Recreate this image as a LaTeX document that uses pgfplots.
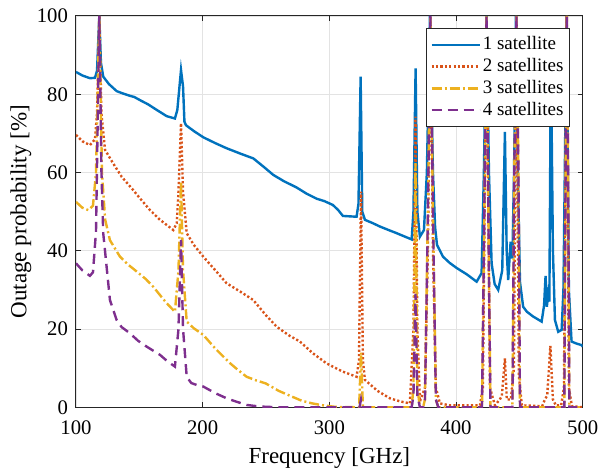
\documentclass[border=0pt]{standalone}
\usepackage{pgfplots}
\pgfplotsset{compat=1.18}
\usepackage{fontspec}
\setmainfont{Liberation Serif}
\definecolor{mblue}{RGB}{0,114,189}
\definecolor{mred}{RGB}{217,83,25}
\definecolor{myellow}{RGB}{237,177,32}
\definecolor{mpurple}{RGB}{126,47,142}
\definecolor{axgray}{RGB}{38,38,38}
\begin{document}
\begin{tikzpicture}
\useasboundingbox (-38pt,-31.35pt) rectangle (262.5pt,203.65pt);
\begin{axis}[
  at={(0,0)}, anchor=south west,
  scale only axis, width=253.35pt, height=195.65pt,
  xmin=100, xmax=500, ymin=0, ymax=100,
  xtick={100,200,300,400,500}, ytick={0,20,40,60,80,100},
  /pgf/number format/assume math mode=true,
  xticklabel={\pgfmathprintnumber{\tick}},
  yticklabel={\pgfmathprintnumber{\tick}},
  tick label style={font=\fontsize{10.35}{12}\selectfont, text=black},
  xticklabel style={anchor=base, yshift=-13.85pt, inner sep=0pt},
  yticklabel style={anchor=east, inner sep=0pt, xshift=-3.85pt},
  label style={font=\fontsize{11.5}{13}\selectfont},
  xlabel={Frequency [GHz]},
  ylabel={Outage probability [\%]},
  xlabel style={at={(axis description cs:0.5,0)}, anchor=base, yshift=-28pt, inner sep=0pt},
  ylabel style={at={([xshift=-27.5pt]axis description cs:0,0.5)}, anchor=center, inner sep=0pt},
  grid=major, major grid style={gray!22, line width=0.4pt},
  tick align=inside, major tick length=2.5pt,
  axis line style={axgray, line width=0.5pt},
  every tick/.style={axgray, line width=0.5pt},
  legend cell align=left,
  legend image code/.code={\draw[#1] (0pt,0pt) -- (24pt,0pt);},
  legend style={at={(rel axis cs:0.975,0.9686)}, anchor=north east,
    font=\fontsize{9.5}{11}\selectfont, draw=axgray, line width=0.5pt, fill=white,
    inner xsep=2pt, inner ysep=2pt, row sep=-1.2pt,
    /tikz/every even column/.append style={column sep=0pt},
    nodes={inner xsep=1pt}},
]
\addplot[mblue, line width=1.2pt] coordinates {
(100,85.7)(105,84.8)(111,84.1)(115,84.2)(116.6,86)(118.4,100)(119.7,88)(121.5,84.5)(126,82.6)(132.1,80.8)(137,80.2)(142.6,79.6)(146,79.3)(150.5,78.5)(157,77.4)(163.7,76)(171.6,74.4)(178.1,73.8)(180,76)(182.9,86.2)(184.5,82)(185.6,73)(186.8,72.1)(193,70.6)(200.5,69.0)(210,67.5)(218.9,66.2)(230,64.8)(240,63.6)(248,61.5)(255.7,59.4)(264,57.8)(274,56.2)(282,54.6)(290,53.3)(296,52.7)(302.8,51.7)(307,50.4)(310.7,48.9)(316,48.8)(321.5,48.7)(323,52)(324.7,84.5)(326,50)(328.1,47.9)(334,47.1)(339.9,46.2)(346,45.4)(353.1,44.5)(359,43.7)(365,42.9)(366.4,50)(368.1,86.6)(369.5,50)(371.5,43.6)(374.7,45.3)(377,60)(379.4,100)(381.8,60)(383.5,46)(385,41.5)(389.7,38.5)(395,36.9)(400.5,35.6)(408.4,34)(416.3,32.1)(420.2,34.3)(422,60)(424.1,100)(426,60)(428.1,36.8)(430.5,31.5)(433.3,30)(436.5,35)(438.6,70.4)(440,40)(441.2,32.5)(443.1,42.3)(444.5,38)(445.8,60)(447.3,100)(448.8,60)(450.5,32)(453,25.7)(456,24.4)(460.9,23.2)(467.6,21.9)(469.5,26)(470.7,33.6)(471.7,25.7)(472.8,29)(473.7,27)(474.9,90)(476.5,40)(478.1,22.3)(480.7,19.3)(483.4,19.8)(484.8,30)(487.3,100)(489.1,30)(491.2,16.8)(495,16.3)(499.1,15.9)(500,15.5)
};
\addlegendentry{1 satellite}
\addplot[mred, line width=1.2pt, dash pattern=on 1.1pt off 1.1pt] coordinates {
(100,69.6)(105,68)(111,67)(115,68.5)(116.6,75)(118.4,100)(120.1,75)(122.9,65.8)(129.4,62.3)(136.1,58.9)(145.2,55.5)(150,53.6)(158.4,50.4)(166,48)(176.8,45.3)(179.5,47)(180.9,55)(182.9,72.6)(184.5,55)(187.4,44.5)(193,41.5)(200.5,38.5)(210,35)(218.9,31.7)(230,29.5)(240,27.4)(250,23.5)(258.4,20.6)(268,18.4)(276.8,16.8)(287,13.8)(297.9,11.2)(310,9.2)(321.5,7.8)(323.4,12)(325,55.1)(326.5,12)(328.1,7)(338,4.2)(347.8,2.3)(356,1.5)(363.6,1)(366.4,20)(368,74.3)(369.5,20)(371.5,1.5)(375.5,5)(377.8,40)(379.8,100)(381.8,40)(384.1,5)(387.3,1)(395,0.5)(418.9,0.5)(421.2,5)(424.1,100)(426.8,5)(430.7,0.5)(434.6,2)(436.2,3)(438.6,12.5)(440.1,2)(443.3,2)(445.7,10)(447.7,100)(449.6,8)(452,0.5)(468,0.3)(470.2,2)(472,3)(474.5,15.7)(476.5,2)(478.8,0.5)(483,0.5)(485.2,5)(487.3,100)(489.1,5)(491.5,0.3)(500,0)
};
\addlegendentry{2 satellites}
\addplot[myellow, line width=1.2pt, dash pattern=on 5pt off 1.5pt on 1pt off 1.5pt] coordinates {
(100,52.5)(105,51)(109.7,50.4)(113.4,51.5)(115.8,60)(118.4,100)(120.5,60)(123,48)(126.8,42.7)(134.7,38.5)(141,36.5)(147.9,34.7)(155,32.8)(161,30.8)(166,28.8)(171.6,26.6)(178.1,24.4)(180.9,35)(182.9,57.7)(184.5,35)(187.4,21.9)(193,20.2)(200.5,18.5)(210,15)(221.5,11.3)(228,9.5)(234.7,7.8)(242,6.9)(249.8,6.1)(260,4.2)(270.7,2.7)(278,1.7)(286.4,1)(295,0.5)(305,0.1)(323.5,0)(325,14)(326.5,0)(365,0)(366.4,5)(368,62.4)(369.5,5)(371.5,0)(374,0)(375.5,2)(377.8,50)(379.8,100)(381.8,50)(384.1,2)(386,0)(420.5,0)(422,40)(424.1,100)(425.8,40)(427.2,0)(444.5,0)(446,60)(447.7,100)(449.3,60)(450.5,0)(485.5,0)(486.5,60)(487.5,100)(488.5,60)(489.5,0)(500,0)
};
\addlegendentry{3 satellites}
\addplot[mpurple, line width=1.2pt, dash pattern=on 5pt off 3pt] coordinates {
(100,36.8)(105,35)(111,33.6)(113.4,34.5)(115.8,45)(118.4,100)(120.1,60)(121.5,44.5)(126.8,27.4)(132.1,22.3)(136,20.5)(142.6,18.9)(149,17)(155.8,15.5)(166.3,13.4)(172,11.8)(178.1,10.4)(180.9,20)(182.9,42.8)(184.5,20)(187.4,7.8)(191,6.2)(195.3,5.7)(200.5,5.3)(210,3.6)(218.9,2.3)(226,1.5)(234.7,0.6)(245,0.2)(260,0)(323.8,0)(325,2)(326.2,0)(365,0)(366.4,3)(368,29)(369.5,3)(371.5,0)(374,0)(375.5,2)(377.8,50)(379.8,100)(381.8,50)(384.1,2)(386,0)(420.5,0)(422,40)(424.1,100)(425.8,40)(427.2,0)(444.5,0)(446,60)(447.7,100)(449.3,60)(450.5,0)(485.5,0)(486.5,60)(487.5,100)(488.5,60)(489.5,0)(500,0)
};
\addlegendentry{4 satellites}
\end{axis}
\end{tikzpicture}
\end{document}
